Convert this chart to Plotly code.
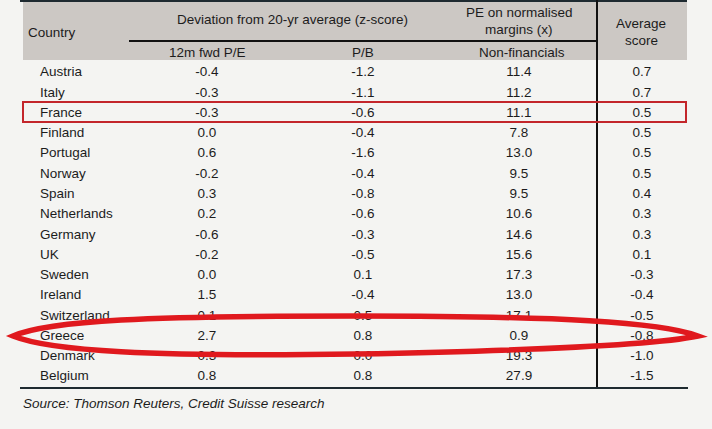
import plotly.graph_objects as go

# table data
countries = ["Austria", "Italy", "France", "Finland", "Portugal", "Norway", "Spain",
             "Netherlands", "Germany", "UK", "Sweden", "Ireland", "Switzerland",
             "Greece", "Denmark", "Belgium"]
fwd_pe_z = [-0.4, -0.3, -0.3, 0.0, 0.6, -0.2, 0.3, 0.2, -0.6, -0.2, 0.0, 1.5, 0.1, 2.7, 0.3, 0.8]
pb_z = [-1.2, -1.1, -0.6, -0.4, -1.6, -0.4, -0.8, -0.6, -0.3, -0.5, 0.1, -0.4, 0.5, 0.8, 0.0, 0.8]
pe_norm = [11.4, 11.2, 11.1, 7.8, 13.0, 9.5, 9.5, 10.6, 14.6, 15.6, 17.3, 13.0, 17.1, 0.9, 19.3, 27.9]
avg_score = [0.7, 0.7, 0.5, 0.5, 0.5, 0.5, 0.4, 0.3, 0.3, 0.1, -0.3, -0.4, -0.5, -0.8, -1.0, -1.5]

W, H = 712, 429
FONT = "Liberation Sans, Arial, sans-serif"
TXT = "#1c1c1c"
SIZE = 13.5
BG = "#f4f4f2"

# layout in pixel space
row_y0, row_dy = 73, 20.27
row_y = [row_y0 + i * row_dy for i in range(len(countries))]

fig = go.Figure()

def col(xpos, texts, anchor="middle center"):
    fig.add_trace(go.Scatter(
        x=[xpos] * len(texts), y=row_y, text=texts, mode="text",
        textposition=anchor, textfont=dict(family=FONT, size=SIZE, color=TXT),
        hoverinfo="skip", showlegend=False))

col(40, countries, "middle right")
col(207, [f"{v:.1f}" for v in fwd_pe_z])
col(363, [f"{v:.1f}" for v in pb_z])
col(519, [f"{v:.1f}" for v in pe_norm])
col(642, [f"{v:.1f}" for v in avg_score])

shapes = [
    # header band
    dict(type="rect", x0=23, x1=687, y0=2, y1=60, fillcolor="#ccc8c4",
         line=dict(width=0), layer="below"),
    # top rule
    dict(type="line", x0=20, x1=687, y0=1, y1=1, line=dict(color="#1e2a30", width=2)),
    # header underline
    dict(type="line", x0=129, x1=597, y0=41, y1=41, line=dict(color="#111", width=2)),
    # vertical divider
    dict(type="line", x0=597, x1=597, y0=0, y1=388, line=dict(color="#111", width=2)),
    # bottom rule
    dict(type="line", x0=20, x1=688, y0=388, y1=388, line=dict(color="#1e2a30", width=2)),
    # France box
    dict(type="rect", x0=23, x1=686, y0=102, y1=122,
         line=dict(color="#c3262b", width=2), layer="above"),
    # Greece ellipse (hand drawn look)
    dict(type="path",
         path="M 13,336 C 50,320 150,316 356,316 C 560,316 660,322 698,336 "
              "C 660,344 560,350 356,354 C 150,357 50,351 13,336 Z",
         line=dict(color="#e0191e", width=5.5), layer="above"),
]

ann = []
def label(x, y, text, xanchor="center", italic=False):
    ann.append(dict(x=x, y=y, text=f"<i>{text}</i>" if italic else text,
                    showarrow=False, xanchor=xanchor, yanchor="middle",
                    font=dict(family=FONT, size=SIZE, color=TXT)))

label(26, 32, "Country", "left")
label(292, 19, "Deviation from 20-yr average (z-score)")
label(519, 12, "PE on normalised")
label(519, 29, "margins (x)")
label(641, 23, "Average")
label(641, 40, "score")
label(207, 52, "12m fwd P/E")
label(363, 52, "P/B")
label(522, 52, "Non-financials")
label(21, 403, "Source: Thomson Reuters, Credit Suisse research", "left", italic=True)

fig.update_layout(
    width=W, height=H,
    margin=dict(l=0, r=0, t=0, b=0),
    paper_bgcolor=BG, plot_bgcolor=BG,
    xaxis=dict(range=[0, W], visible=False, fixedrange=True),
    yaxis=dict(range=[H, 0], visible=False, fixedrange=True),
    shapes=shapes, annotations=ann,
)

# drop the default page margin so the figure sits at the window's corner
fig.write_html("out.html", config={"displayModeBar": False},
               post_script="document.body.style.margin='0';"
                           f"document.body.style.background='{BG}';")
